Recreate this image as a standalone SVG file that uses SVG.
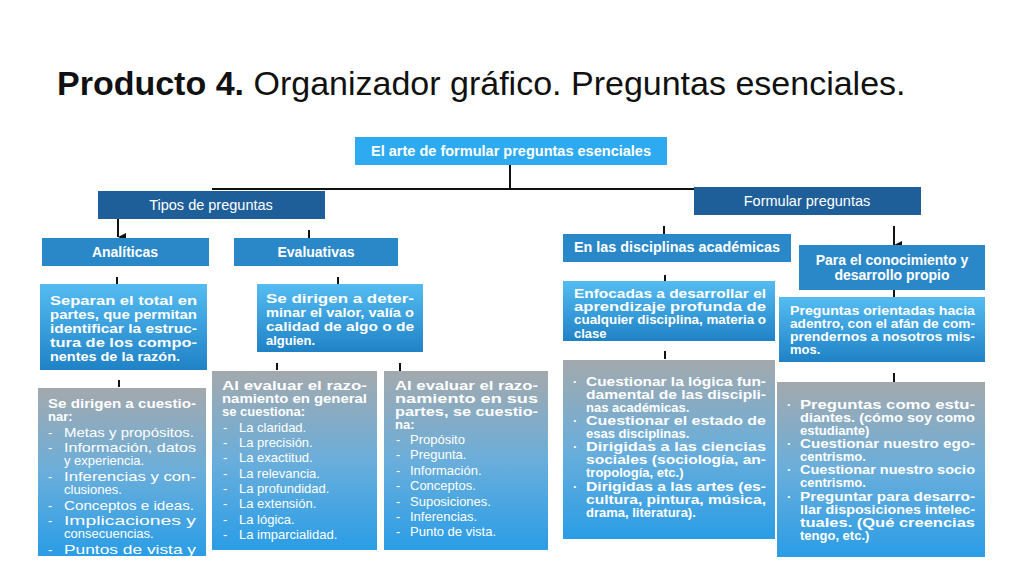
<svg xmlns="http://www.w3.org/2000/svg" width="1024" height="576" viewBox="0 0 1024 576">
<defs>
<linearGradient id="gd" x1="0" y1="0" x2="0" y2="1"><stop offset="0" stop-color="#55bcf2"/><stop offset="1" stop-color="#1f82c6"/></linearGradient>
<linearGradient id="gg" x1="0" y1="0" x2="0" y2="1"><stop offset="0" stop-color="#a3a9ad"/><stop offset="0.5" stop-color="#6aaedb"/><stop offset="1" stop-color="#2a9de6"/></linearGradient>
<marker id="ar" viewBox="0 0 10 10" refX="5" refY="10" markerUnits="userSpaceOnUse" markerWidth="8" markerHeight="8" orient="auto"><path d="M0,0 L10,0 L5,10 z" fill="#111"/></marker>
<clipPath id="c1"><rect x="38" y="388" width="168" height="168"/></clipPath>
<clipPath id="c2"><rect x="563" y="281" width="212" height="60"/></clipPath>
</defs>
<style>
text{font-family:"Liberation Sans",Arial,sans-serif;fill:#fff}
.t{fill:#111;font-size:34px}
.h{font-size:14px;font-weight:bold}
.n{font-size:14.5px}
.b{font-size:13px;font-weight:bold}
.l{font-size:13px}
.dk{fill:#1f5f99}
.md{fill:#2b88c8}
.lt{fill:#2eaaf0}
line{stroke:#111;stroke-width:2}
</style>
<rect width="1024" height="576" fill="#fff"/>
<text x="57" y="95" class="t"><tspan font-weight="bold">Producto 4.</tspan> Organizador gráfico. Preguntas esenciales.</text>
<g id="connectors">
<line x1="510" y1="165" x2="510" y2="189"/>
<line x1="212" y1="189" x2="697" y2="189"/>
<line x1="118" y1="219" x2="118" y2="237" marker-end="url(#ar)"/>
<line x1="309" y1="230" x2="309" y2="238"/>
<line x1="117" y1="277" x2="117" y2="284"/>
<line x1="338" y1="277" x2="338" y2="295" marker-end="url(#ar)"/>
<line x1="119" y1="380" x2="119" y2="387"/>
<line x1="277" y1="363" x2="277" y2="370"/>
<line x1="400" y1="363" x2="400" y2="383" marker-end="url(#ar)"/>
<line x1="664" y1="226" x2="664" y2="234"/>
<line x1="894" y1="226" x2="894" y2="245" marker-end="url(#ar)"/>
<line x1="665" y1="275" x2="665" y2="282"/>
<line x1="894" y1="290" x2="894" y2="297"/>
<line x1="665" y1="351" x2="665" y2="359"/>
<line x1="894" y1="373" x2="894" y2="393" marker-end="url(#ar)"/>
</g>
<g id="root"><rect x="355" y="137" width="312" height="28" class="lt"/><text x="511" y="156" class="h" text-anchor="middle" textLength="280" lengthAdjust="spacingAndGlyphs">El arte de formular preguntas esenciales</text></g>
<g id="tipos"><rect x="98" y="191" width="227" height="28" class="dk"/><text x="211" y="210" class="n" text-anchor="middle">Tipos de preguntas</text></g>
<g id="formular"><rect x="694" y="187" width="227" height="28" class="dk"/><text x="807" y="206" class="n" text-anchor="middle">Formular preguntas</text></g>
<g id="analiticas"><rect x="42" y="238" width="167" height="28" class="md"/><text x="125" y="257" class="h" text-anchor="middle">Analíticas</text></g>
<g id="evaluativas"><rect x="234" y="238" width="164" height="28" class="md"/><text x="316" y="257" class="h" text-anchor="middle">Evaluativas</text></g>
<g id="analiticas-desc"><rect x="40" y="284" width="167" height="86" fill="url(#gd)"/>
<text class="b"><tspan x="50" y="305" textLength="147" lengthAdjust="spacingAndGlyphs">Separan el total en</tspan><tspan x="50" y="319" textLength="147" lengthAdjust="spacingAndGlyphs">partes, que permitan</tspan><tspan x="50" y="333" textLength="147" lengthAdjust="spacingAndGlyphs">identificar la estruc-</tspan><tspan x="50" y="347" textLength="147" lengthAdjust="spacingAndGlyphs">tura de los compo-</tspan><tspan x="50" y="361" textLength="130" lengthAdjust="spacingAndGlyphs">nentes de la razón.</tspan></text></g>
<g id="evaluativas-desc"><rect x="257" y="284" width="166" height="68" fill="url(#gd)"/>
<text class="b"><tspan x="266" y="303" textLength="148" lengthAdjust="spacingAndGlyphs">Se dirigen a deter-</tspan><tspan x="266" y="317" textLength="148" lengthAdjust="spacingAndGlyphs">minar el valor, valía o</tspan><tspan x="266" y="331" textLength="148" lengthAdjust="spacingAndGlyphs">calidad de algo o de</tspan><tspan x="266" y="345">alguien.</tspan></text></g>
<g id="analiticas-list"><rect x="38" y="388" width="168" height="168" fill="url(#gg)"/>
<g clip-path="url(#c1)"><text class="l"><tspan x="48" y="408" font-weight="bold" textLength="148" lengthAdjust="spacingAndGlyphs">Se dirigen a cuestio-</tspan><tspan x="48" y="421" font-weight="bold">nar:</tspan><tspan x="48" y="437">-</tspan><tspan x="64" y="437" textLength="130" lengthAdjust="spacingAndGlyphs">Metas y propósitos.</tspan><tspan x="48" y="452">-</tspan><tspan x="64" y="452" textLength="132" lengthAdjust="spacingAndGlyphs">Información, datos</tspan><tspan x="64" y="465">y experiencia.</tspan><tspan x="48" y="481">-</tspan><tspan x="64" y="481" textLength="132" lengthAdjust="spacingAndGlyphs">Inferencias y con-</tspan><tspan x="64" y="494">clusiones.</tspan><tspan x="48" y="510">-</tspan><tspan x="64" y="510" textLength="130" lengthAdjust="spacingAndGlyphs">Conceptos e ideas.</tspan><tspan x="48" y="525">-</tspan><tspan x="64" y="525" textLength="132" lengthAdjust="spacingAndGlyphs">Implicaciones y</tspan><tspan x="64" y="538">consecuencias.</tspan><tspan x="48" y="554">-</tspan><tspan x="64" y="554" textLength="132" lengthAdjust="spacingAndGlyphs">Puntos de vista y</tspan></text></g></g>
<g id="general-list"><rect x="212" y="371" width="165" height="179" fill="url(#gg)"/>
<text class="l"><tspan x="222" y="390" font-weight="bold" textLength="145" lengthAdjust="spacingAndGlyphs">Al evaluar el razo-</tspan><tspan x="222" y="403" font-weight="bold" textLength="145" lengthAdjust="spacingAndGlyphs">namiento en general</tspan><tspan x="222" y="416" font-weight="bold">se cuestiona:</tspan>
<tspan x="223" y="432">-</tspan><tspan x="239" y="432">La claridad.</tspan><tspan x="223" y="447">-</tspan><tspan x="239" y="447">La precisión.</tspan><tspan x="223" y="462">-</tspan><tspan x="239" y="462">La exactitud.</tspan><tspan x="223" y="478">-</tspan><tspan x="239" y="478">La relevancia.</tspan><tspan x="223" y="493">-</tspan><tspan x="239" y="493">La profundidad.</tspan><tspan x="223" y="508">-</tspan><tspan x="239" y="508">La extensión.</tspan><tspan x="223" y="524">-</tspan><tspan x="239" y="524">La lógica.</tspan><tspan x="223" y="539">-</tspan><tspan x="239" y="539">La imparcialidad.</tspan></text></g>
<g id="partes-list"><rect x="384" y="371" width="164" height="179" fill="url(#gg)"/>
<text class="l"><tspan x="395" y="390" font-weight="bold" textLength="143" lengthAdjust="spacingAndGlyphs">Al evaluar el razo-</tspan><tspan x="395" y="403" font-weight="bold" textLength="143" lengthAdjust="spacingAndGlyphs">namiento en sus</tspan><tspan x="395" y="416" font-weight="bold" textLength="143" lengthAdjust="spacingAndGlyphs">partes, se cuestio-</tspan><tspan x="395" y="429" font-weight="bold">na:</tspan>
<tspan x="396" y="444">-</tspan><tspan x="410" y="444">Propósito</tspan><tspan x="396" y="459">-</tspan><tspan x="410" y="459">Pregunta.</tspan><tspan x="396" y="475">-</tspan><tspan x="410" y="475">Información.</tspan><tspan x="396" y="490">-</tspan><tspan x="410" y="490">Conceptos.</tspan><tspan x="396" y="506">-</tspan><tspan x="410" y="506">Suposiciones.</tspan><tspan x="396" y="521">-</tspan><tspan x="410" y="521">Inferencias.</tspan><tspan x="396" y="536">-</tspan><tspan x="410" y="536">Punto de vista.</tspan></text></g>
<g id="disciplinas"><rect x="563" y="234" width="228" height="28" class="md"/><text x="574" y="252" class="h" textLength="206" lengthAdjust="spacingAndGlyphs">En las disciplinas académicas</text></g>
<g id="conocimiento"><rect x="799" y="245" width="186" height="45" class="md"/><text class="h" text-anchor="middle"><tspan x="892" y="265">Para el conocimiento y</tspan><tspan x="892" y="280">desarrollo propio</tspan></text></g>
<g id="enfocadas"><rect x="563" y="281" width="212" height="60" fill="url(#gd)"/>
<g clip-path="url(#c2)"><text class="b" font-size="11.5"><tspan x="574" y="298" textLength="192" lengthAdjust="spacingAndGlyphs">Enfocadas a desarrollar el</tspan><tspan x="574" y="311" textLength="192" lengthAdjust="spacingAndGlyphs">aprendizaje profunda de</tspan><tspan x="574" y="324" textLength="192" lengthAdjust="spacingAndGlyphs">cualquier disciplina, materia o</tspan><tspan x="574" y="338">clase</tspan></text></g></g>
<g id="orientadas"><rect x="779" y="297" width="206" height="65" fill="url(#gd)"/>
<text class="b" font-size="12.5"><tspan x="790" y="315" textLength="185" lengthAdjust="spacingAndGlyphs">Preguntas orientadas hacia</tspan><tspan x="790" y="328" textLength="185" lengthAdjust="spacingAndGlyphs">adentro, con el afán de com-</tspan><tspan x="790" y="341" textLength="185" lengthAdjust="spacingAndGlyphs">prendernos a nosotros mis-</tspan><tspan x="790" y="354">mos.</tspan></text></g>
<g id="disciplinas-list"><rect x="563" y="360" width="212" height="179" fill="url(#gg)"/>
<text class="b"><tspan x="573" y="386">·</tspan><tspan x="586" y="386" textLength="180" lengthAdjust="spacingAndGlyphs">Cuestionar la lógica fun-</tspan><tspan x="586" y="399" textLength="180" lengthAdjust="spacingAndGlyphs">damental de las discipli-</tspan><tspan x="586" y="412">nas académicas.</tspan><tspan x="573" y="425">·</tspan><tspan x="586" y="425" textLength="180" lengthAdjust="spacingAndGlyphs">Cuestionar el estado de</tspan><tspan x="586" y="438">esas disciplinas.</tspan><tspan x="573" y="451">·</tspan><tspan x="586" y="451" textLength="180" lengthAdjust="spacingAndGlyphs">Dirigidas a las ciencias</tspan><tspan x="586" y="464" textLength="180" lengthAdjust="spacingAndGlyphs">sociales (sociología, an-</tspan><tspan x="586" y="477">tropología, etc.)</tspan><tspan x="573" y="491">·</tspan><tspan x="586" y="491" textLength="180" lengthAdjust="spacingAndGlyphs">Dirigidas a las artes (es-</tspan><tspan x="586" y="504" textLength="180" lengthAdjust="spacingAndGlyphs">cultura, pintura, música,</tspan><tspan x="586" y="517">drama, literatura).</tspan></text></g>
<g id="propio-list"><rect x="777" y="382" width="208" height="175" fill="url(#gg)"/>
<text class="b"><tspan x="787" y="409">·</tspan><tspan x="800" y="409" textLength="175" lengthAdjust="spacingAndGlyphs">Preguntas como estu-</tspan><tspan x="800" y="422" textLength="175" lengthAdjust="spacingAndGlyphs">diantes. (cómo soy como</tspan><tspan x="800" y="435">estudiante)</tspan><tspan x="787" y="448">·</tspan><tspan x="800" y="448" textLength="175" lengthAdjust="spacingAndGlyphs">Cuestionar nuestro ego-</tspan><tspan x="800" y="461">centrismo.</tspan><tspan x="787" y="474">·</tspan><tspan x="800" y="474" textLength="175" lengthAdjust="spacingAndGlyphs">Cuestionar nuestro socio</tspan><tspan x="800" y="487">centrismo.</tspan><tspan x="787" y="501">·</tspan><tspan x="800" y="501" textLength="175" lengthAdjust="spacingAndGlyphs">Preguntar para desarro-</tspan><tspan x="800" y="514" textLength="175" lengthAdjust="spacingAndGlyphs">llar disposiciones intelec-</tspan><tspan x="800" y="527" textLength="175" lengthAdjust="spacingAndGlyphs">tuales. (Qué creencias</tspan><tspan x="800" y="540">tengo, etc.)</tspan></text></g>
</svg>
